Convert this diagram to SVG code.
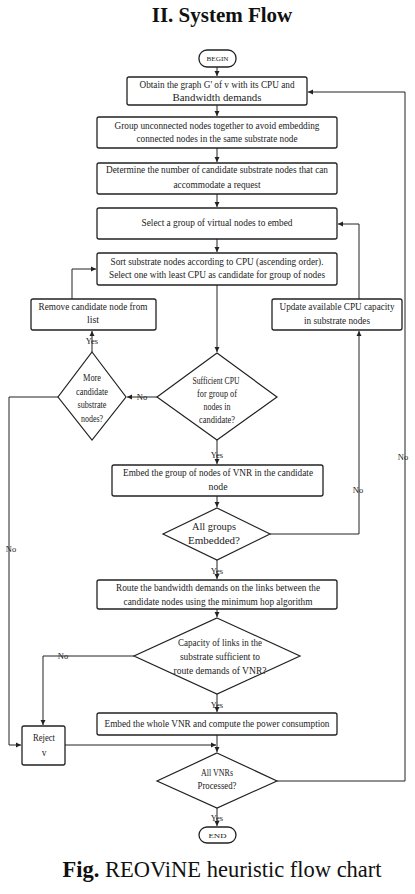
<svg xmlns="http://www.w3.org/2000/svg" width="415" height="894" viewBox="0 0 415 894">
<style>
.box{fill:#fff;stroke:#222;stroke-width:1.3}
.dia{fill:#fff;stroke:#222;stroke-width:1.2}
.t{font-family:"Liberation Serif","Times New Roman",serif;font-size:9.5px;fill:#222;text-anchor:middle}
.s{font-family:"Liberation Serif","Times New Roman",serif;font-size:7px;fill:#222;text-anchor:middle}
.lbl{font-family:"Liberation Serif","Times New Roman",serif;font-size:8.5px;fill:#222;text-anchor:middle}
.c{fill:none;stroke:#222;stroke-width:1}
</style>
<defs>
<marker id="ah" markerWidth="6" markerHeight="6" refX="5" refY="3" orient="auto" markerUnits="userSpaceOnUse">
<path d="M0,0.5 L5,3 L0,5.5 Z" fill="#222"/>
</marker>
</defs>
<rect width="415" height="894" fill="#fff"/>
<text x="222" y="22" font-family="Liberation Serif, serif" font-size="21" font-weight="bold" text-anchor="middle" fill="#111">II.  System Flow</text>

<g id="connectors">
<path class="c" d="M217,67 V76" marker-end="url(#ah)"/>
<path class="c" d="M217,105 V116" marker-end="url(#ah)"/>
<path class="c" d="M217,148 V162" marker-end="url(#ah)"/>
<path class="c" d="M217,194 V207" marker-end="url(#ah)"/>
<path class="c" d="M217,239 V252" marker-end="url(#ah)"/>
<path class="c" d="M217,285 V352" marker-end="url(#ah)"/>
<path class="c" d="M157,397 H127" marker-end="url(#ah)"/>
<path class="c" d="M92,352 V331" marker-end="url(#ah)"/>
<path class="c" d="M72,299 V269 H96" marker-end="url(#ah)"/>
<path class="c" d="M58,397 H9 V745 H21" marker-end="url(#ah)"/>
<path class="c" d="M217,440 V464" marker-end="url(#ah)"/>
<path class="c" d="M217,496 V507" marker-end="url(#ah)"/>
<path class="c" d="M270,534 H359 V331" marker-end="url(#ah)"/>
<path class="c" d="M359,299 V224 H338" marker-end="url(#ah)"/>
<path class="c" d="M217,560 V579" marker-end="url(#ah)"/>
<path class="c" d="M217,609 V617" marker-end="url(#ah)"/>
<path class="c" d="M134,656 H43 V725" marker-end="url(#ah)"/>
<path class="c" d="M217,694 V712" marker-end="url(#ah)"/>
<path class="c" d="M217,735 V752" marker-end="url(#ah)"/>
<path class="c" d="M65,745 H216" marker-end="url(#ah)"/>
<path class="c" d="M277,781 H405 V92 H308" marker-end="url(#ah)"/>
<path class="c" d="M217,808 V826" marker-end="url(#ah)"/>
<text class="lbl" x="92" y="344">Yes</text>
<text class="lbl" x="142" y="400">No</text>
<text class="lbl" x="11" y="552">No</text>
<text class="lbl" x="217" y="458">Yes</text>
<text class="lbl" x="358" y="493">No</text>
<text class="lbl" x="217" y="574">Yes</text>
<text class="lbl" x="63" y="659">No</text>
<text class="lbl" x="217" y="708">Yes</text>
<text class="lbl" x="403" y="460">No</text>
<text class="lbl" x="217" y="821">Yes</text>
</g>

<g id="begin">
<rect x="199" y="50" width="37" height="17" rx="8" class="box"/>
<text class="s" x="217.5" y="61" textLength="22" lengthAdjust="spacingAndGlyphs">BEGIN</text>
</g>
<g id="obtain">
<rect x="127" y="77" width="180" height="28" rx="2" class="box"/>
<text class="t" x="217" y="88" textLength="155" lengthAdjust="spacingAndGlyphs">Obtain the graph G' of v with its CPU and</text>
<text class="t" x="217" y="101" textLength="89" lengthAdjust="spacingAndGlyphs">Bandwidth demands</text>
</g>
<g id="group">
<rect x="97" y="117" width="240" height="31" rx="2" class="box"/>
<text class="t" x="217" y="129" textLength="205" lengthAdjust="spacingAndGlyphs">Group unconnected nodes together to avoid embedding</text>
<text class="t" x="217" y="142" textLength="161" lengthAdjust="spacingAndGlyphs">connected nodes in the same substrate node</text>
</g>
<g id="determine">
<rect x="97" y="163" width="240" height="31" rx="2" class="box"/>
<text class="t" x="217" y="173" textLength="222" lengthAdjust="spacingAndGlyphs">Determine the number of candidate substrate nodes that can</text>
<text class="t" x="217" y="188" textLength="87" lengthAdjust="spacingAndGlyphs">accommodate a request</text>
</g>
<g id="select">
<rect x="97" y="208" width="240" height="31" rx="2" class="box"/>
<text class="t" x="217" y="226" textLength="151" lengthAdjust="spacingAndGlyphs">Select a group of virtual nodes to embed</text>
</g>
<g id="sort">
<rect x="97" y="253" width="240" height="32" rx="2" class="box"/>
<text class="t" x="217" y="265" textLength="213" lengthAdjust="spacingAndGlyphs">Sort substrate nodes according to CPU (ascending order).</text>
<text class="t" x="217" y="278" textLength="216" lengthAdjust="spacingAndGlyphs">Select one with least CPU as candidate for group of nodes</text>
</g>
<g id="remove">
<rect x="31" y="299" width="125" height="31" rx="2" class="box"/>
<text class="t" x="93" y="310" textLength="109" lengthAdjust="spacingAndGlyphs">Remove candidate node from</text>
<text class="t" x="93" y="323" textLength="12" lengthAdjust="spacingAndGlyphs">list</text>
</g>
<g id="update">
<rect x="272" y="299" width="130" height="31" rx="2" class="box"/>
<text class="t" x="337" y="310" textLength="115" lengthAdjust="spacingAndGlyphs">Update available CPU capacity</text>
<text class="t" x="337" y="324" textLength="66" lengthAdjust="spacingAndGlyphs">in substrate nodes</text>
</g>
<g id="sufficient">
<path class="dia" d="M217,353 L277,397 L217,440 L157,397 Z"/>
<text class="t" x="216" y="384" textLength="47" lengthAdjust="spacingAndGlyphs">Sufficient CPU</text>
<text class="t" x="217" y="397" textLength="40" lengthAdjust="spacingAndGlyphs">for group of</text>
<text class="t" x="217" y="410" textLength="27" lengthAdjust="spacingAndGlyphs">nodes in</text>
<text class="t" x="217" y="423" textLength="36" lengthAdjust="spacingAndGlyphs">candidate?</text>
</g>
<g id="more">
<path class="dia" d="M92,352 L126,397 L92,440 L58,397 Z"/>
<text class="t" x="92" y="381" textLength="18" lengthAdjust="spacingAndGlyphs">More</text>
<text class="t" x="92" y="395" textLength="32" lengthAdjust="spacingAndGlyphs">candidate</text>
<text class="t" x="92" y="408" textLength="29" lengthAdjust="spacingAndGlyphs">substrate</text>
<text class="t" x="92" y="422" textLength="22" lengthAdjust="spacingAndGlyphs">nodes?</text>
</g>
<g id="embedgroup">
<rect x="112" y="465" width="211" height="31" rx="2" class="box"/>
<text class="t" x="218" y="476" textLength="190" lengthAdjust="spacingAndGlyphs">Embed the group of nodes of VNR in the candidate</text>
<text class="t" x="218" y="490" textLength="19" lengthAdjust="spacingAndGlyphs">node</text>
</g>
<g id="allgroups">
<path class="dia" d="M217,508 L270,534 L217,560 L163,534 Z"/>
<text class="t" x="214" y="530" textLength="44" lengthAdjust="spacingAndGlyphs">All groups</text>
<text class="t" x="214" y="544" textLength="52" lengthAdjust="spacingAndGlyphs">Embedded?</text>
</g>
<g id="route">
<rect x="97" y="580" width="240" height="29" rx="2" class="box"/>
<text class="t" x="218" y="591" textLength="204" lengthAdjust="spacingAndGlyphs">Route the bandwidth demands on the links between the</text>
<text class="t" x="218" y="605" textLength="189" lengthAdjust="spacingAndGlyphs">candidate nodes using the minimum hop algorithm</text>
</g>
<g id="capacity">
<path class="dia" d="M217,618 L300,656 L217,694 L134,656 Z"/>
<text class="t" x="220" y="646" textLength="84" lengthAdjust="spacingAndGlyphs">Capacity of links in the</text>
<text class="t" x="220" y="660" textLength="80" lengthAdjust="spacingAndGlyphs">substrate sufficient to</text>
<text class="t" x="220" y="674" textLength="93" lengthAdjust="spacingAndGlyphs">route demands of VNR?</text>
</g>
<g id="embedwhole">
<rect x="97" y="713" width="240" height="22" rx="2" class="box"/>
<text class="t" x="217" y="727" textLength="225" lengthAdjust="spacingAndGlyphs">Embed the whole VNR and compute the power consumption</text>
</g>
<g id="reject">
<rect x="22" y="726" width="43" height="39" rx="2" class="box"/>
<text class="t" x="44" y="741" textLength="22" lengthAdjust="spacingAndGlyphs">Reject</text>
<text class="t" x="44" y="756">v</text>
</g>
<g id="allvnrs">
<path class="dia" d="M217,753 L277,781 L217,808 L157,781 Z"/>
<text class="t" x="217" y="776" textLength="32" lengthAdjust="spacingAndGlyphs">All VNRs</text>
<text class="t" x="217" y="789" textLength="39" lengthAdjust="spacingAndGlyphs">Processed?</text>
</g>
<g id="end">
<rect x="199" y="827" width="37" height="16" rx="8" class="box"/>
<text class="s" x="217.5" y="838" textLength="18" lengthAdjust="spacingAndGlyphs">END</text>
</g>
<text x="222" y="877" font-family="Liberation Serif, serif" font-size="22.5" text-anchor="middle" fill="#111"><tspan font-weight="bold">Fig.</tspan> REOViNE heuristic flow chart</text>
</svg>
